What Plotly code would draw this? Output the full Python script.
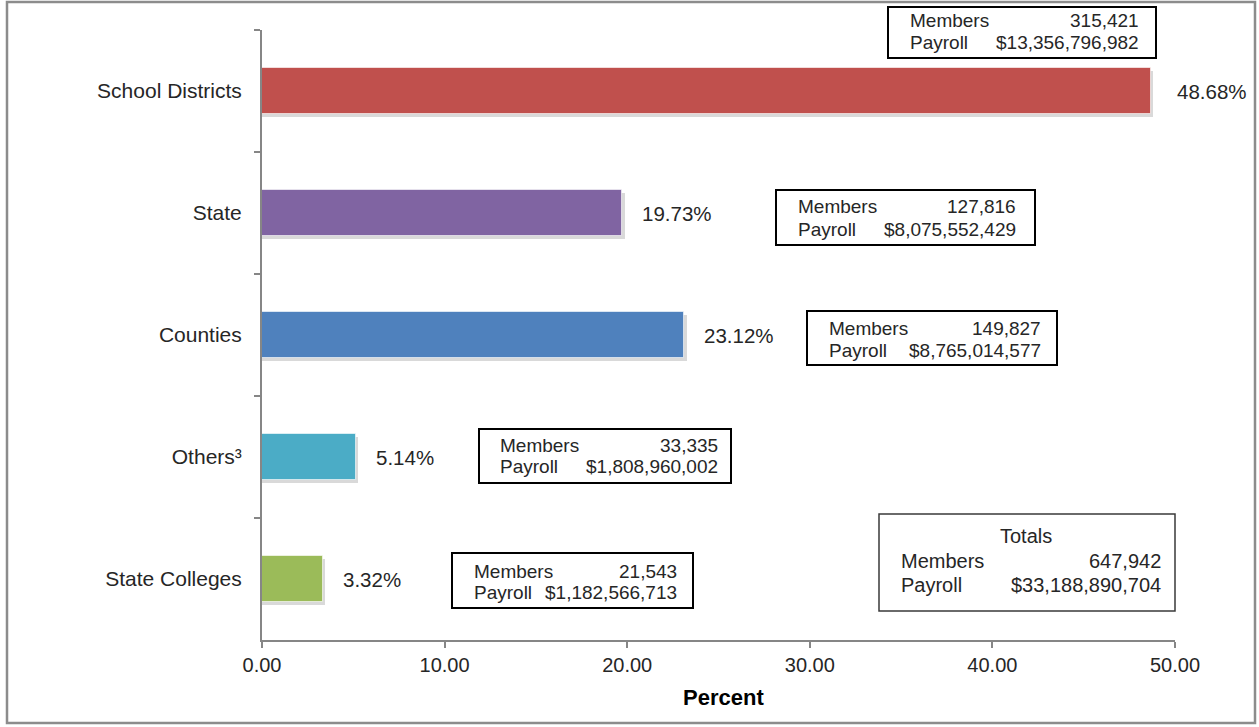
import plotly.graph_objects as go

# Membership distribution by employer type
categories = ["School Districts", "State", "Counties", "Others³", "State Colleges"]
percents = [48.68, 19.73, 23.12, 5.14, 3.32]
members = [315421, 127816, 149827, 33335, 21543]
payrolls = [13356796982, 8075552429, 8765014577, 1808960002, 1182566713]
bar_colors = ["#C0504D", "#8064A2", "#4F81BD", "#4BACC6", "#9BBB59"]
total_members = 647942
total_payroll = 33188890704

W, H = 1259, 727
PLOT_L, PLOT_R, PLOT_T, PLOT_B = 262, 1175, 30, 640
FONT = "Liberation Sans, Arial, sans-serif"
TXT = "#262626"
AXIS = "#868686"
BAR_W = 0.38


def px_x(px):
    return (px - PLOT_L) / (PLOT_R - PLOT_L)


def px_y(py):
    return (PLOT_B - py) / (PLOT_B - PLOT_T)


fig = go.Figure()

# soft drop shadow behind each bar
fig.add_trace(go.Bar(
    y=categories, x=[p + 0.14 for p in percents], orientation="h",
    width=BAR_W, offset=-BAR_W / 2 + 0.024,
    marker=dict(color="rgba(0,0,0,0.15)", line=dict(width=0)),
    hoverinfo="skip", showlegend=False,
))
fig.add_trace(go.Bar(
    y=categories, x=percents, orientation="h",
    width=BAR_W, offset=-BAR_W / 2,
    marker=dict(color=bar_colors, line=dict(color="rgba(255,255,255,0.6)", width=1)),
    showlegend=False,
))

annotations = []
# percentage labels at the end of each bar
for cat, p in zip(categories, percents):
    annotations.append(dict(
        x=p, y=cat, xref="x", yref="y", text=f"{p:.2f}%",
        xanchor="left", yanchor="middle", xshift=18 if p < 40 else 24,
        showarrow=False, font=dict(family=FONT, size=20.5, color=TXT),
    ))

# info boxes: (left, right, top, bottom, text left, text right, line1 y, line2 y)
box_px = [
    (888, 1156, 7, 58, 908, 1141, 21, 43),
    (776, 1035, 190, 245, 796, 1018, 207, 229),
    (807, 1057, 311, 365, 827, 1043, 328, 350),
    (479, 731, 429, 483, 498, 720, 445, 466),
    (452, 693, 553, 608, 472, 679, 571, 592),
]

shapes = []
for (l, r, t, b, tl, tr, y1, y2), m, pay in zip(box_px, members, payrolls):
    shapes.append(dict(type="rect", xref="paper", yref="paper",
                       x0=px_x(l), x1=px_x(r), y0=px_y(b), y1=px_y(t),
                       line=dict(color="#000000", width=2), fillcolor="white"))
    for label, val, yy in (("Members", f"{m:,}", y1), ("Payroll", f"${pay:,}", y2)):
        annotations.append(dict(x=px_x(tl), y=px_y(yy), xref="paper", yref="paper",
                                text=label, xanchor="left", yanchor="middle",
                                showarrow=False, font=dict(family=FONT, size=19, color=TXT)))
        annotations.append(dict(x=px_x(tr), y=px_y(yy), xref="paper", yref="paper",
                                text=val, xanchor="right", yanchor="middle",
                                showarrow=False, font=dict(family=FONT, size=19, color=TXT)))

# totals box
shapes.append(dict(type="rect", xref="paper", yref="paper",
                   x0=px_x(879), x1=px_x(1175), y0=px_y(611), y1=px_y(514),
                   line=dict(color="#3a3a3a", width=1.5), fillcolor="white"))
annotations.append(dict(x=px_x(1026), y=px_y(536), xref="paper", yref="paper",
                        text="Totals", xanchor="center", yanchor="middle", showarrow=False,
                        font=dict(family=FONT, size=20, color=TXT)))
for label, val, yy in (("Members", f"{total_members:,}", 561),
                       ("Payroll", f"${total_payroll:,}", 585)):
    annotations.append(dict(x=px_x(899), y=px_y(yy), xref="paper", yref="paper",
                            text=label, xanchor="left", yanchor="middle", showarrow=False,
                            font=dict(family=FONT, size=20, color=TXT)))
    annotations.append(dict(x=px_x(1163), y=px_y(yy), xref="paper", yref="paper",
                            text=val, xanchor="right", yanchor="middle", showarrow=False,
                            font=dict(family=FONT, size=20, color=TXT)))

# axis title
annotations.append(dict(x=px_x(723), y=px_y(697), xref="paper", yref="paper",
                        text="<b>Percent</b>", xanchor="center", yanchor="middle",
                        showarrow=False, font=dict(family=FONT, size=22, color="#000000")))

# outer frame
shapes.append(dict(type="rect", xref="paper", yref="paper",
                   x0=px_x(7), x1=px_x(1255), y0=px_y(723), y1=px_y(2),
                   line=dict(color="#8c8c8c", width=2.5), fillcolor="rgba(0,0,0,0)",
                   layer="below"))

fig.update_layout(
    width=W, height=H,
    margin=dict(l=PLOT_L, r=W - PLOT_R, t=PLOT_T, b=H - PLOT_B),
    paper_bgcolor="white", plot_bgcolor="white",
    barmode="overlay", bargap=0,
    font=dict(family=FONT, size=20, color=TXT),
    shapes=shapes, annotations=annotations,
    xaxis=dict(range=[0, 50], dtick=10, tick0=0, tickformat=".2f",
               showgrid=False, zeroline=False, showline=True,
               linecolor=AXIS, linewidth=2, ticks="outside", ticklen=6,
               tickwidth=2, tickcolor=AXIS,
               tickfont=dict(family=FONT, size=20, color=TXT)),
    yaxis=dict(autorange="reversed", type="category", tickson="boundaries",
               showgrid=False, zeroline=False, showline=True,
               linecolor=AXIS, linewidth=2, ticks="outside", ticklen=6,
               tickwidth=2, tickcolor=AXIS, ticklabelstandoff=14,
               tickfont=dict(family=FONT, size=21, color=TXT)),
)

fig.write_html("out.html")
